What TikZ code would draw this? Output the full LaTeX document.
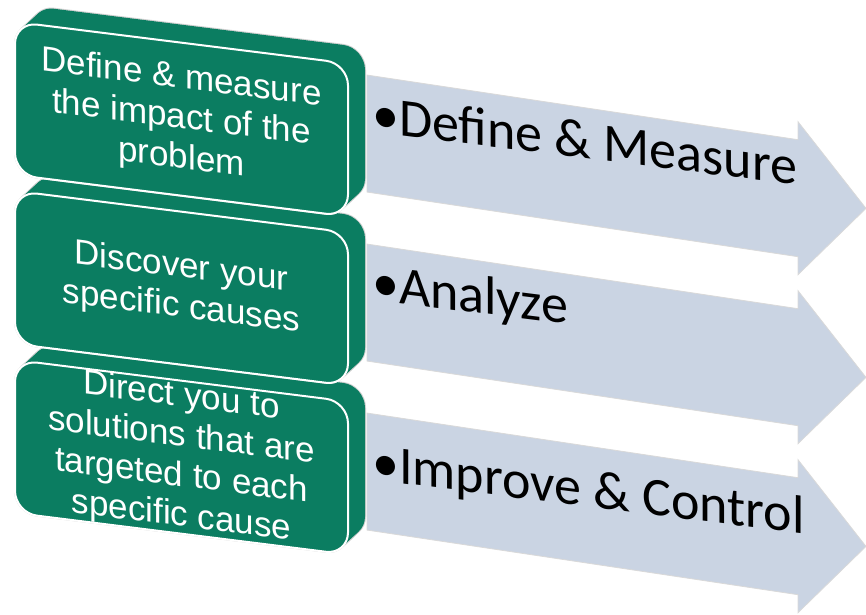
\documentclass[tikz,border=0pt]{standalone}
\usepackage{fontspec}
\setmainfont{Liberation Sans}
\newfontfamily\phasefont{Carlito}
\usetikzlibrary{positioning}

\definecolor{stepgreen}{RGB}{11,125,97}
\definecolor{phaseblue}{RGB}{202,212,227}

\tikzset{
  stepedge/.style={draw=black!18, line width=2pt, rounded corners=22pt},
  stepslab/.style={fill=stepgreen, rounded corners=22pt},
  stepface/.style={fill=stepgreen, draw=white, line width=2pt, rounded corners=22pt},
  steptext/.style={text=white, align=center, transform shape, inner sep=0pt,
    font=\fontsize{35}{40}\selectfont},
  phase/.style={fill=phaseblue, draw=black!15, line width=0.8pt},
  phasetext/.style={anchor=base west, transform shape, inner sep=0pt, yslant=0.025,
    font=\phasefont\fontsize{54}{60}\selectfont}
}

\begin{document}
\begin{tikzpicture}[x=1pt,y=-1pt]
\useasboundingbox (0,0) rectangle (866,614);

% the three phase arrows, lying behind the steps
\begin{scope}[yslant=-0.15]
\foreach \k/\id/\txt/\base in {0/define/Define \& Measure/56,
    1/analyze/Analyze/55, 2/improve/Improve \& Control/66} {
  \pgfmathsetmacro\ytop{20+169*\k}
  \draw[phase] (367,\ytop) -- (798,\ytop) -- (798,\ytop-18) -- (866,\ytop+58.5)
    -- (798,\ytop+135) -- (798,\ytop+117) -- (367,\ytop+117) -- cycle;
  \node[phasetext] (\id) at (372,\ytop+\base) {•\txt};
}
\end{scope}

% green steps, bottom one first so each slab sits under the step above
\begin{scope}[yslant=-0.125]
\foreach \k/\id/\txt in {2/direct/{Direct you to\\solutions that are\\targeted to each\\specific cause},
    1/discover/{Discover your\\specific causes},
    0/measure/{Define \& measure\\the impact of the\\problem}} {
  \pgfmathsetmacro\ytop{20+169*\k}
  % extruded body: outline pass, then fill pass
  \foreach \t in {0,...,12}
    \draw[stepedge] (15+17*\t/12,\ytop-18*\t/12) rectangle ++(333,153);
  \foreach \t in {0,...,12}
    \fill[stepslab] (15+17*\t/12,\ytop-18*\t/12) rectangle ++(333,153);
  \draw[stepface] (15,\ytop) rectangle ++(333,153);
  \node[steptext] (\id) at (181.5,\ytop+76.5) {\txt};
}
\end{scope}
\end{tikzpicture}
\end{document}
